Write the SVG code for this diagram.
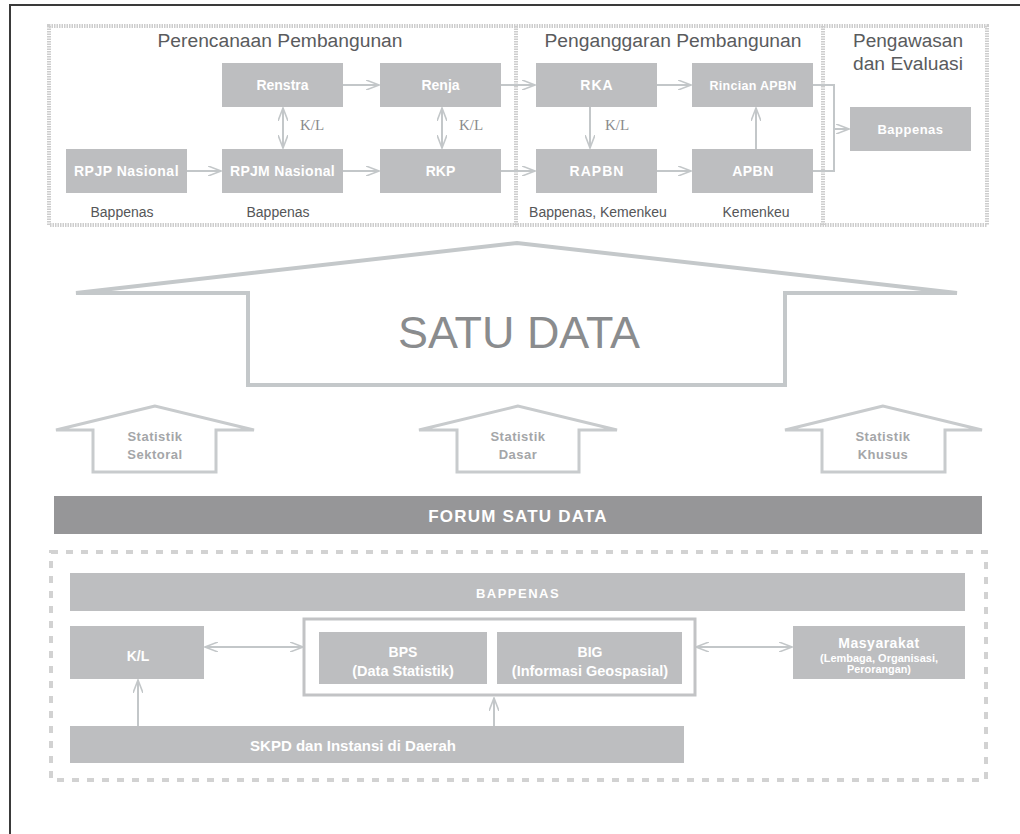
<svg xmlns="http://www.w3.org/2000/svg" width="1020" height="834" viewBox="0 0 1020 834">
<style>
.bg{fill:#ffffff}
.frame{stroke:#3a3a3a;stroke-width:2;fill:none}
.dotbox{fill:none;stroke:#cdcdcd;stroke-width:4;stroke-dasharray:1.5 1}
.dashbox{fill:none;stroke:#d2d2d2;stroke-width:4;stroke-dasharray:7 8}
.box{fill:#bdbec0}
.dark{fill:#969698}
.bt{font-family:"Liberation Sans",Arial,sans-serif;font-weight:bold;fill:#ffffff;text-anchor:middle}
.title{font-family:"Liberation Sans",Arial,sans-serif;font-size:18px;fill:#5a5b5d;text-anchor:middle}
.lab{font-family:"Liberation Sans",Arial,sans-serif;font-size:14px;fill:#555658;text-anchor:middle}
.kl{font-family:"Liberation Serif","Times New Roman",serif;font-size:15px;fill:#8a8b8d;text-anchor:middle}
.conn{fill:none;stroke:#c3c7c9;stroke-width:2}
.big{fill:none;stroke:#c4c8ca;stroke-width:4;stroke-linejoin:miter}
.sm{fill:#ffffff;stroke:#c8cbcd;stroke-width:3}
.st{font-family:"Liberation Sans",Arial,sans-serif;font-weight:bold;font-size:13px;fill:#a4a6a8;text-anchor:middle}
</style>
<defs>
<marker id="ah" viewBox="0 0 14 10" markerWidth="14" markerHeight="10" refX="13" refY="5" orient="auto-start-reverse" markerUnits="userSpaceOnUse">
<path d="M0,0 L13,5 L0,10" fill="none" stroke="#c3c7c9" stroke-width="1.6"/>
</marker>
</defs>
<rect class="bg" x="0" y="0" width="1020" height="834"/>
<path class="frame" d="M10,834 V5 H1020"/>

<g id="sections">
<rect class="dotbox" x="49" y="26" width="938" height="199"/>
<line class="dotbox" x1="516" y1="26" x2="516" y2="225"/>
<line class="dotbox" x1="823" y1="26" x2="823" y2="225"/>
<text class="title" x="280" y="47" textLength="245" lengthAdjust="spacingAndGlyphs">Perencanaan Pembangunan</text>
<text class="title" x="673" y="47" textLength="257" lengthAdjust="spacingAndGlyphs">Penganggaran Pembangunan</text>
<text class="title" x="908" y="47" textLength="110" lengthAdjust="spacingAndGlyphs">Pengawasan</text>
<text class="title" x="908" y="70" textLength="110" lengthAdjust="spacingAndGlyphs">dan Evaluasi</text>
<text class="lab" x="122" y="217">Bappenas</text>
<text class="lab" x="278" y="217">Bappenas</text>
<text class="lab" x="598" y="217">Bappenas, Kemenkeu</text>
<text class="lab" x="756" y="217">Kemenkeu</text>
<text class="kl" x="312" y="130">K/L</text>
<text class="kl" x="471" y="130">K/L</text>
<text class="kl" x="617" y="130">K/L</text>
</g>

<g id="connectors">
<path class="conn" d="M187,171 H221" marker-end="url(#ah)"/>
<path class="conn" d="M343,171 H379" marker-end="url(#ah)"/>
<path class="conn" d="M343,85 H379" marker-end="url(#ah)"/>
<path class="conn" d="M501,85 H535" marker-end="url(#ah)"/>
<path class="conn" d="M501,171 H535" marker-end="url(#ah)"/>
<path class="conn" d="M657,85 H691" marker-end="url(#ah)"/>
<path class="conn" d="M657,171 H691" marker-end="url(#ah)"/>
<path class="conn" d="M283,108 V148" marker-start="url(#ah)" marker-end="url(#ah)"/>
<path class="conn" d="M442,108 V148" marker-start="url(#ah)" marker-end="url(#ah)"/>
<path class="conn" d="M590,107 V148" marker-end="url(#ah)"/>
<path class="conn" d="M756,149 V108" marker-end="url(#ah)"/>
<path class="conn" d="M813,85 H834 V171 H813"/>
<path class="conn" d="M834,129 H849" marker-end="url(#ah)"/>
<path class="conn" d="M205,647 H303" marker-start="url(#ah)" marker-end="url(#ah)"/>
<path class="conn" d="M696,647 H792" marker-start="url(#ah)" marker-end="url(#ah)"/>
<path class="conn" d="M138,726 V680" marker-end="url(#ah)"/>
<path class="conn" d="M494,726 V698" marker-end="url(#ah)"/>
</g>

<g id="n-renstra"><rect class="box" x="222" y="63" width="121" height="44"/><text class="bt" x="282.5" y="90" font-size="14">Renstra</text></g>
<g id="n-renja"><rect class="box" x="380" y="63" width="121" height="44"/><text class="bt" x="440.5" y="90" font-size="14">Renja</text></g>
<g id="n-rpjp"><rect class="box" x="66" y="149" width="121" height="44"/><text class="bt" x="126.5" y="176" font-size="14" letter-spacing="0.5">RPJP Nasional</text></g>
<g id="n-rpjm"><rect class="box" x="222" y="149" width="121" height="44"/><text class="bt" x="282.5" y="176" font-size="14" letter-spacing="0.3">RPJM Nasional</text></g>
<g id="n-rkp"><rect class="box" x="380" y="149" width="121" height="44"/><text class="bt" x="440.5" y="176" font-size="14">RKP</text></g>
<g id="n-rka"><rect class="box" x="536" y="63" width="121" height="44"/><text class="bt" x="597" y="90" font-size="14" letter-spacing="1">RKA</text></g>
<g id="n-rincian"><rect class="box" x="692" y="63" width="121" height="44"/><text class="bt" x="753" y="90" font-size="12.5" letter-spacing="0.3">Rincian APBN</text></g>
<g id="n-rapbn"><rect class="box" x="536" y="149" width="121" height="44"/><text class="bt" x="597" y="176" font-size="14" letter-spacing="1">RAPBN</text></g>
<g id="n-apbn"><rect class="box" x="692" y="149" width="121" height="44"/><text class="bt" x="753" y="176" font-size="14" letter-spacing="0.5">APBN</text></g>
<g id="n-bappenas-eval"><rect class="box" x="850" y="107" width="121" height="44"/><text class="bt" x="910.5" y="134" font-size="13" letter-spacing="0.5">Bappenas</text></g>

<g id="n-satudata">
<path class="big" d="M76,293 L517,243 L957,293 H785 V385 H248 V293 Z"/>
<text x="519" y="348" font-family="'Liberation Sans',Arial,sans-serif" font-size="45" fill="#8a8c8e" text-anchor="middle" textLength="242" lengthAdjust="spacingAndGlyphs">SATU DATA</text>
</g>

<g id="n-sektoral">
<path class="sm" d="M155,406 L56,430 H93 V472 H216 V430 H254 Z"/>
<text class="st" x="155" y="441" letter-spacing="0.5">Statistik</text>
<text class="st" x="155" y="459" letter-spacing="0.5">Sektoral</text>
</g>
<g id="n-dasar">
<path class="sm" d="M518,406 L419,430 H457 V472 H579 V430 H617 Z"/>
<text class="st" x="518" y="441" letter-spacing="0.5">Statistik</text>
<text class="st" x="518" y="459" letter-spacing="0.5">Dasar</text>
</g>
<g id="n-khusus">
<path class="sm" d="M883,406 L785,430 H822 V472 H945 V430 H982 Z"/>
<text class="st" x="883" y="441" letter-spacing="0.5">Statistik</text>
<text class="st" x="883" y="459" letter-spacing="0.5">Khusus</text>
</g>

<g id="n-forum"><rect class="dark" x="54" y="496" width="928" height="38"/><text class="bt" x="518" y="522" font-size="17" letter-spacing="1.2">FORUM SATU DATA</text></g>

<rect class="dashbox" x="51" y="552" width="935" height="228"/>

<g id="n-bappenas"><rect class="box" x="70" y="573" width="895" height="38"/><text class="bt" x="518" y="598" font-size="13" letter-spacing="1.5">BAPPENAS</text></g>
<g id="n-kl"><rect class="box" x="70" y="626" width="134" height="53"/><text class="bt" x="138" y="661" font-size="14">K/L</text></g>
<g id="n-center">
<rect x="304" y="619" width="391" height="76" fill="#ffffff" stroke="#c2c3c5" stroke-width="3"/>
<g id="n-bps"><rect class="box" x="319" y="632" width="168" height="52"/>
<text class="bt" x="403" y="657" font-size="14" font-weight="normal">BPS</text>
<text class="bt" x="403" y="676" font-size="14.5">(Data Statistik)</text></g>
<g id="n-big"><rect class="box" x="497" y="632" width="185" height="52"/>
<text class="bt" x="590" y="657" font-size="14">BIG</text>
<text class="bt" x="590" y="676" font-size="14.5">(Informasi Geospasial)</text></g>
</g>
<g id="n-masyarakat"><rect class="box" x="793" y="626" width="172" height="53"/>
<text class="bt" x="879" y="648" font-size="14" letter-spacing="0.5">Masyarakat</text>
<text class="bt" x="879" y="662" font-size="10.5" textLength="118" lengthAdjust="spacingAndGlyphs">(Lembaga, Organisasi,</text>
<text class="bt" x="879" y="673" font-size="10.5" textLength="64" lengthAdjust="spacingAndGlyphs">Perorangan)</text></g>
<g id="n-skpd"><rect class="box" x="70" y="726" width="614" height="37"/><text class="bt" x="353" y="751" font-size="15">SKPD dan Instansi di Daerah</text></g>
</svg>
